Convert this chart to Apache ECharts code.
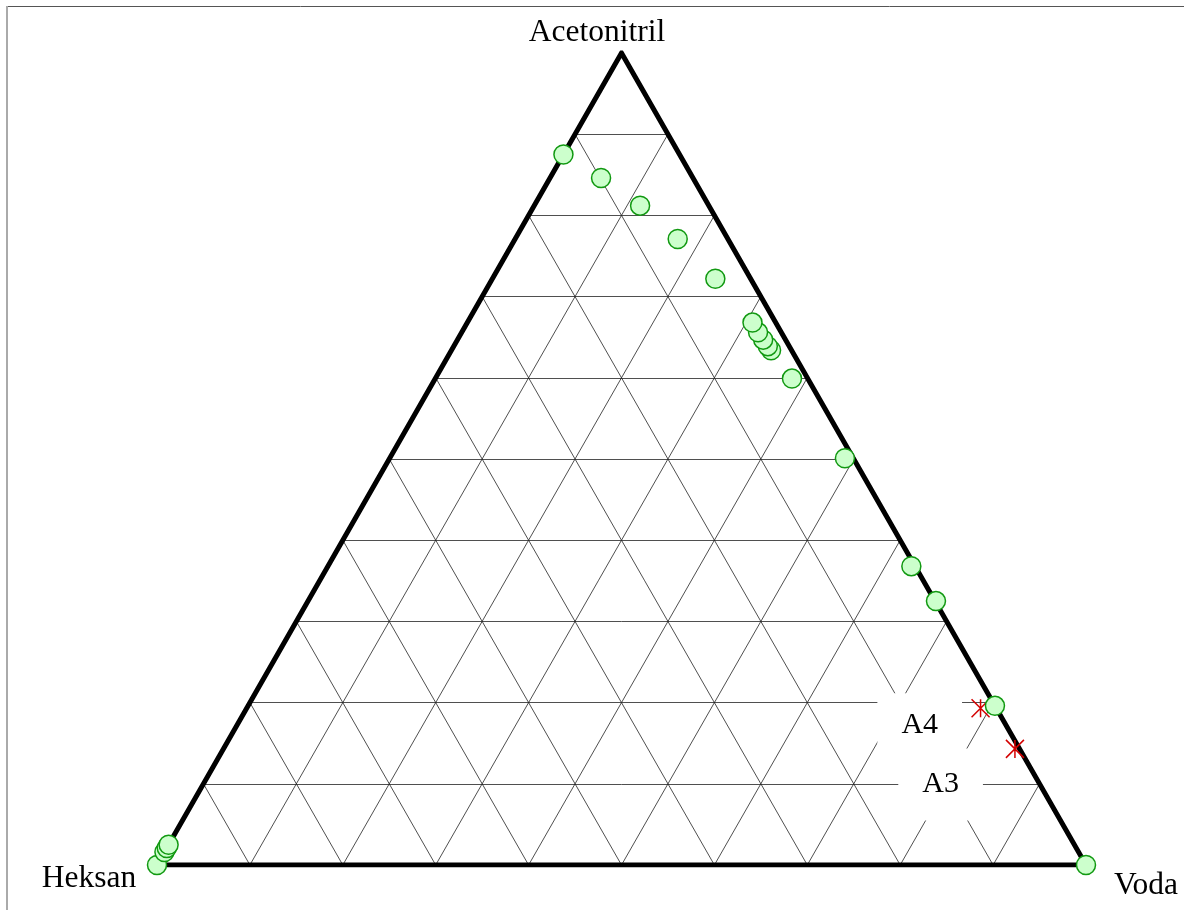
<!DOCTYPE html>
<html lang="en">
<head>
    <meta charset="UTF-8">
    <title>Ternary diagram</title>
    <script type="text/javascript" src="https://cdn.jsdelivr.net/npm/echarts@6/dist/echarts.min.js"></script>
    <style>
        html, body { margin: 0; padding: 0; background: #fff; }
        #charts { width: 1184px; height: 910px; }
    </style>
</head>
<body>
<div id="charts"></div>
<script>
    // compositions (mass fractions), hexane = 1 - acetonitrile - water
    var vertexNames = ['Heksan', 'Voda', 'Acetonitril']
    var gridSteps = [0.1, 0.2, 0.3, 0.4, 0.5, 0.6, 0.7, 0.8, 0.9]

    // green points (binodal)
    var acnGreen = [0.875, 0.846, 0.812, 0.771, 0.722, 0.634, 0.639, 0.647, 0.656, 0.668,
        0.599, 0.501, 0.368, 0.325, 0.196, 0, 0, 0.016, 0.021, 0.025]
    var waterGreen = [0, 0.055, 0.114, 0.175, 0.240, 0.344, 0.338, 0.329, 0.319, 0.307,
        0.384, 0.490, 0.628, 0.676, 0.804, 1, 0, 0, 0, 0]

    // red points
    var acnRed = [0.193, 0.143]
    var waterRed = [0.790, 0.852]

    // labelled points
    var pointNames = ['A4', 'A3']
    var acnLabel = [0.172, 0.099]
    var waterLabel = [0.735, 0.794]

    function toXY(a, w) { //ternary -> cartesian
        return [w + a / 2, a]
    }

    var greenData = acnGreen.map(function (a, i) { return toXY(a, waterGreen[i]) })
    var redData = acnRed.map(function (a, i) { return toXY(a, waterRed[i]) })

    // grid lines
    var gridLines = []
    gridSteps.forEach(function (k) {
        // constant acetonitrile
        gridLines.push({coords: [toXY(k, 0), toXY(k, 1 - k)]})
        // constant water
        gridLines.push({coords: [toXY(0, k), toXY(1 - k, k)]})
        // constant hexane
        gridLines.push({coords: [toXY(0, 1 - k), toXY(1 - k, 0)]})
    })

    var outline = [toXY(0, 0), toXY(0, 1), toXY(1, 0), toXY(0, 0)]

    var fontFam = '"Liberation Serif", "Times New Roman", serif'

    var labelPads = [[17, 24, 17, 24], [13, 24, 29, 24]]
    var labelData = pointNames.map(function (n, i) {
        return {
            value: toXY(acnLabel[i], waterLabel[i]),
            name: n,
            label: {padding: labelPads[i]}
        }
    })

    var chart = echarts.init(document.getElementById('charts'), null, {renderer: 'canvas'})
    chart.setOption({
        animation: false,
        backgroundColor: '#fff',
        grid: {left: 157, right: 98, top: 53, bottom: 45},
        xAxis: {type: 'value', min: 0, max: 1, show: false},
        yAxis: {type: 'value', min: 0, max: 1, show: false},
        graphic: [
            {type: 'line', shape: {x1: 6, y1: 6.5, x2: 1184, y2: 6.5}, style: {stroke: '#555', lineWidth: 1}},
            {type: 'line', shape: {x1: 7, y1: 6, x2: 7, y2: 910}, style: {stroke: '#aaa', lineWidth: 2}},
            {type: 'text', x: 597, y: 33, style: {text: vertexNames[2], font: '31.5px ' + fontFam, fill: '#000', textAlign: 'center', textVerticalAlign: 'middle'}},
            {type: 'text', x: 89, y: 879, style: {text: vertexNames[0], font: '31.5px ' + fontFam, fill: '#000', textAlign: 'center', textVerticalAlign: 'middle'}},
            {type: 'text', x: 1146, y: 886, style: {text: vertexNames[1], font: '31.5px ' + fontFam, fill: '#000', textAlign: 'center', textVerticalAlign: 'middle'}}
        ],
        series: [
            {
                type: 'lines',
                coordinateSystem: 'cartesian2d',
                silent: true,
                z: 1,
                lineStyle: {color: '#222', width: 0.8, opacity: 1},
                data: gridLines
            },
            {
                type: 'scatter',
                silent: true,
                z: 2,
                symbolSize: 0,
                itemStyle: {opacity: 1},
                data: labelData,
                label: {
                    show: true,
                    position: 'inside',
                    formatter: '{b}',
                    fontFamily: fontFam,
                    fontSize: 30,
                    color: '#000',
                    opacity: 1,
                    backgroundColor: '#fff'
                }
            },
            {
                type: 'line',
                silent: true,
                z: 3,
                symbol: 'none',
                data: outline,
                lineStyle: {color: '#000', width: 5, join: 'miter'}
            },
            {
                type: 'scatter',
                silent: true,
                z: 4,
                symbol: 'path://M10,0 L10,20 M0,0 L20,20 M0,20 L20,0',
                symbolSize: 18,
                itemStyle: {color: 'none', borderColor: '#d40000', borderWidth: 1.5, opacity: 1},
                data: redData
            },
            {
                type: 'scatter',
                silent: true,
                z: 5,
                symbol: 'circle',
                symbolSize: 19,
                itemStyle: {color: '#ccffcc', borderColor: '#119911', borderWidth: 1.5, opacity: 1},
                data: greenData
            }
        ]
    })
</script>
</body>
</html>
